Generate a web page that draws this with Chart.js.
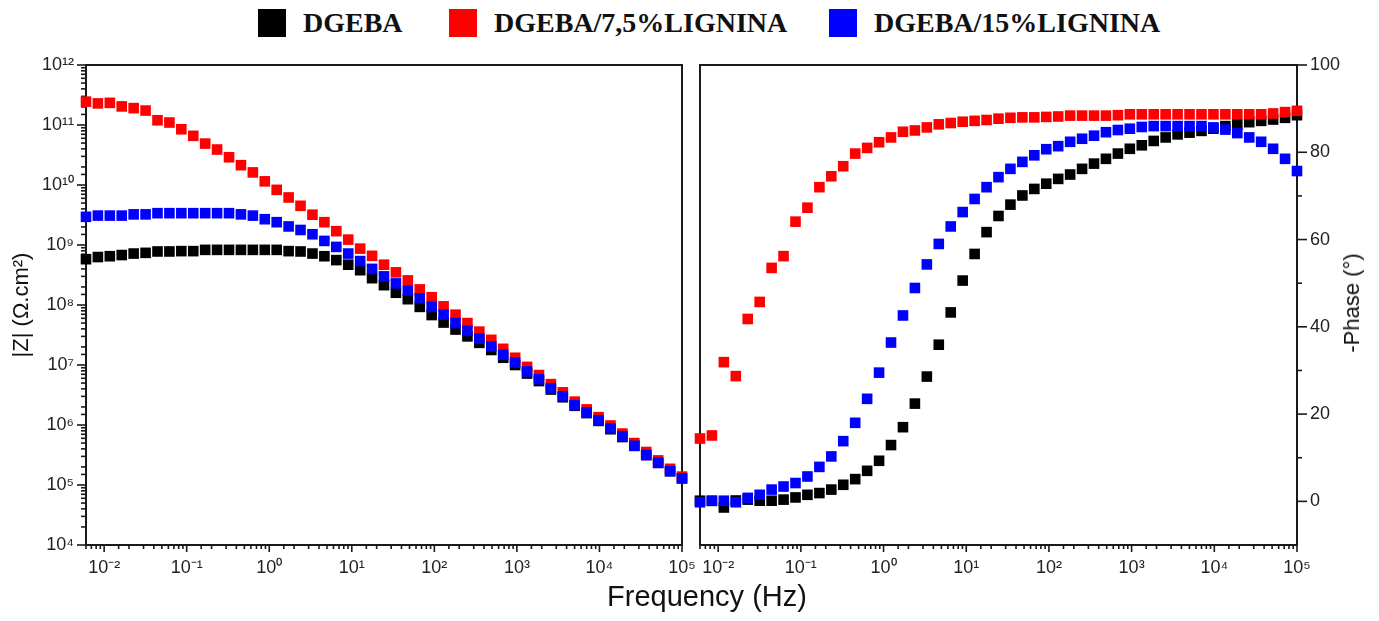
<!DOCTYPE html>
<html>
<head>
<meta charset="utf-8">
<script src="https://cdn.jsdelivr.net/npm/chart.js@4.4.1/dist/chart.umd.min.js"></script>
<style>
html,body{margin:0;padding:0;background:#fff;width:1379px;height:621px;overflow:hidden;position:relative;font-family:'Liberation Sans',Arial,sans-serif;}
.box{position:absolute;top:0;height:621px;}
#leftBox{left:0;width:710px;}
#rightBox{left:690px;width:689px;}
.leg{position:absolute;top:9px;height:28px;display:flex;align-items:center;font-family:'Liberation Serif','Times New Roman',serif;font-weight:bold;font-size:28px;line-height:28px;color:#111;white-space:nowrap;}
.leg i{display:inline-block;width:28px;height:28px;margin-right:17px;}
#xt{position:absolute;left:457px;width:500px;top:580px;text-align:center;font-size:29px;color:#111;white-space:nowrap;}
#yr{position:absolute;left:1352px;top:303px;transform:translate(-50%,-50%) rotate(-90deg);font-size:22px;color:#111;white-space:nowrap;}
</style>
</head>
<body>
<div class="leg" style="left:258px"><i style="background:#000"></i><span>DGEBA</span></div>
<div class="leg" style="left:449px"><i style="background:#ff0000"></i><span>DGEBA/7,5%LIGNINA</span></div>
<div class="leg" style="left:829px"><i style="background:#0000ff"></i><span>DGEBA/15%LIGNINA</span></div>
<div class="box" id="leftBox"><canvas id="cl"></canvas></div>
<div class="box" id="rightBox"><canvas id="cr"></canvas></div>
<div id="xt">Frequency (Hz)</div>
<div id="yr">-Phase (°)</div>
<script>
// ---- data ----
const freq = [0.00603, 0.0084, 0.01172, 0.01634, 0.02278, 0.03177, 0.0443, 0.06176, 0.08613, 0.1201,
  0.1675, 0.2335, 0.3256, 0.4541, 0.6332, 0.883, 1.231, 1.717, 2.394, 3.339,
  4.656, 6.493, 9.054, 12.63, 17.61, 24.55, 34.23, 47.74, 66.57, 92.82,
  129.4, 180.5, 251.7, 351.0, 489.4, 682.5, 951.5, 1327, 1850, 2580,
  3597, 5017, 6996, 9755, 13603, 18967, 26448, 36881, 51428, 71713, 100000];

const zDGEBA = [5.8e8, 6.3e8, 6.5e8, 6.8e8, 7.2e8, 7.4e8, 7.8e8, 7.8e8, 7.9e8, 7.9e8,
  8.3e8, 8.3e8, 8.3e8, 8.3e8, 8.3e8, 8.3e8, 8.3e8, 7.9e8, 7.8e8, 7.2e8,
  6.5e8, 5.6e8, 4.7e8, 3.8e8, 2.8e8, 2.14e8, 1.6e8, 1.25e8, 9.3e7, 6.8e7,
  5.1e7, 3.9e7, 3.0e7, 2.34e7, 1.78e7, 1.32e7, 1.0e7, 7.2e6, 5.4e6, 3.9e6,
  2.9e6, 2.09e6, 1.58e6, 1.17e6, 8.5e5, 6.3e5, 4.5e5, 3.16e5, 2.34e5, 1.70e5, 1.29e5];

const zLig75 = [2.45e11, 2.29e11, 2.34e11, 2.04e11, 1.91e11, 1.74e11, 1.20e11, 1.10e11, 8.5e10, 6.6e10,
  4.9e10, 3.9e10, 2.9e10, 2.14e10, 1.62e10, 1.15e10, 8.3e9, 6.2e9, 4.5e9, 3.2e9,
  2.4e9, 1.70e9, 1.23e9, 8.7e8, 6.6e8, 4.7e8, 3.5e8, 2.57e8, 1.82e8, 1.35e8,
  9.5e7, 6.9e7, 5.0e7, 3.6e7, 2.63e7, 1.86e7, 1.32e7, 9.3e6, 6.8e6, 4.8e6,
  3.5e6, 2.45e6, 1.82e6, 1.35e6, 9.8e5, 7.2e5, 5.0e5, 3.55e5, 2.57e5, 1.86e5, 1.38e5];

const zLig15 = [2.95e9, 3.09e9, 3.09e9, 3.09e9, 3.24e9, 3.24e9, 3.39e9, 3.39e9, 3.39e9, 3.39e9,
  3.39e9, 3.39e9, 3.39e9, 3.24e9, 3.09e9, 2.69e9, 2.4e9, 2.04e9, 1.78e9, 1.51e9,
  1.17e9, 9.3e8, 7.2e8, 5.4e8, 4.0e8, 3.0e8, 2.29e8, 1.74e8, 1.29e8, 9.3e7,
  6.9e7, 5.0e7, 3.7e7, 2.75e7, 2.04e7, 1.48e7, 1.10e7, 7.8e6, 5.8e6, 4.1e6,
  3.0e6, 2.14e6, 1.62e6, 1.20e6, 8.7e5, 6.5e5, 4.5e5, 3.16e5, 2.34e5, 1.70e5, 1.29e5];

const phDGEBA = [0.15, 0.1, -1.4, 0.2, 0.4, 0.15, 0.15, 0.4, 0.9, 1.5,
  1.9, 2.7, 3.8, 5.1, 7.0, 9.3, 12.9, 17.0, 22.4, 28.6,
  35.9, 43.3, 50.6, 56.7, 61.7, 65.4, 68.0, 70.1, 71.6, 72.8,
  73.9, 74.9, 76.2, 77.4, 78.5, 79.7, 80.8, 81.6, 82.6, 83.4,
  84.1, 84.5, 84.9, 85.4, 86.0, 86.4, 86.9, 87.2, 87.5, 87.9, 88.5];

const phLig75 = [14.4, 15.1, 31.9, 28.7, 41.8, 45.7, 53.5, 56.2, 64.1, 67.3,
  72.0, 74.5, 76.8, 79.7, 81.0, 82.3, 83.4, 84.7, 85.0, 85.7,
  86.4, 86.7, 87.0, 87.2, 87.4, 87.7, 87.9, 88.0, 88.0, 88.1,
  88.2, 88.4, 88.4, 88.4, 88.4, 88.5, 88.7, 88.7, 88.7, 88.7,
  88.7, 88.7, 88.7, 88.7, 88.7, 88.7, 88.7, 88.7, 88.9, 89.2, 89.5];

const phLig15 = [-0.2, 0.15, 0.15, -0.2, 0.8, 1.5, 2.7, 3.4, 4.2, 5.7,
  7.9, 10.3, 13.8, 18.0, 23.5, 29.5, 36.4, 42.6, 48.9, 54.3,
  59.0, 63.0, 66.3, 69.3, 72.0, 74.3, 76.2, 77.8, 79.3, 80.7,
  81.4, 82.4, 83.1, 83.8, 84.6, 85.1, 85.4, 85.8, 86.0, 86.0,
  86.0, 86.0, 86.0, 85.7, 85.2, 84.4, 83.4, 82.4, 80.8, 78.5, 75.7];

const seriesNames = ['DGEBA', 'DGEBA/7,5%LIGNINA', 'DGEBA/15%LIGNINA'];
const seriesColors = ['#000000', '#ff0000', '#0000ff'];

const xTickExps = [-2, -1, 0, 1, 2, 3, 4, 5];
const xTickLabels = ['10⁻²', '10⁻¹', '10⁰', '10¹', '10²', '10³', '10⁴', '10⁵'];
const yTickExps = [4, 5, 6, 7, 8, 9, 10, 11, 12];
const yTickLabels = ['10⁴', '10⁵', '10⁶', '10⁷', '10⁸', '10⁹', '10¹⁰', '10¹¹', '10¹²'];
const phaseTickLabels = [0, 20, 40, 60, 80, 100];

// ---- helpers ----
const FAMILY = "'Liberation Sans', Arial, sans-serif";
Chart.defaults.font.family = FAMILY;

function isPow10(v) {
  const l = Math.log10(v);
  return Math.abs(l - Math.round(l)) < 1e-6;
}
function expLabel(v, exps, labels) {
  if (!isPow10(v)) return '';
  const i = exps.indexOf(Math.round(Math.log10(v)));
  return i >= 0 ? labels[i] : '';
}
function pts(xs, ys) { return xs.map((x, i) => ({x: x, y: ys[i]})); }
function ds(k, ys, order) {
  return {
    label: seriesNames[k], data: pts(freq, ys),
    pointStyle: 'rect', pointRadius: 7.5, pointHoverRadius: 7.5,
    backgroundColor: seriesColors[k], borderColor: seriesColors[k], borderWidth: 0,
    showLine: false, clip: false, order: order
  };
}

const axisPlugin = {
  id: 'axisDraw',
  beforeDatasetsDraw(chart) {
    const ctx = chart.ctx, a = chart.chartArea;
    ctx.save();
    ctx.strokeStyle = '#1a1a1a';
    ctx.lineWidth = 2;
    ctx.strokeRect(a.left, a.top, a.right - a.left, a.bottom - a.top);
    ctx.lineWidth = 1.6;
    Object.values(chart.scales).forEach(s => {
      s.ticks.forEach(t => {
        const p = s.getPixelForValue(t.value);
        let major;
        if (s.type === 'logarithmic') major = isPow10(t.value);
        else major = (t.value % 20 === 0);
        ctx.beginPath();
        if (s.position === 'bottom') {
          const len = major ? 7 : 4;
          ctx.moveTo(p, a.bottom); ctx.lineTo(p, a.bottom + len);
        } else if (s.position === 'left') {
          const len = major ? 9 : 5;
          ctx.moveTo(a.left, p); ctx.lineTo(a.left - len, p);
        } else {
          if (t.value < 0) return;
          const len = major ? 10 : 5;
          ctx.moveTo(a.right, p); ctx.lineTo(a.right + len, p);
        }
        ctx.stroke();
      });
    });
    ctx.restore();
  }
};

const hiddenGrid = (len) => ({display: true, drawOnChartArea: false, drawTicks: true, tickLength: len, color: 'rgba(0,0,0,0)'});
const tickFont = {size: 18, family: FAMILY};

const xScale = {
  type: 'logarithmic', min: 0.00603, max: 1e5, position: 'bottom',
  afterFit(s) { s.height = 76; },
  grid: hiddenGrid(7), border: {display: false},
  ticks: {autoSkip: false, maxRotation: 0, padding: 5, font: tickFont, color: '#222',
    callback: (v) => expLabel(v, xTickExps, xTickLabels)}
};

// ---- left chart: |Z| ----
new Chart(document.getElementById('cl'), {
  type: 'scatter',
  data: {datasets: [ds(0, zDGEBA, 3), ds(1, zLig75, 2), ds(2, zLig15, 1)]},
  options: {
    responsive: true, maintainAspectRatio: false, animation: false, events: [],
    layout: {padding: {top: 65, right: 28, left: 0, bottom: 0}},
    plugins: {legend: {display: false}, tooltip: {enabled: false}},
    scales: {
      x: xScale,
      y: {
        type: 'logarithmic', min: 1e4, max: 1e12, position: 'left',
        afterFit(s) { s.width = 86; },
        grid: hiddenGrid(9), border: {display: false},
        title: {display: true, text: '|Z| (Ω.cm²)', color: '#111', font: {size: 22, family: FAMILY}, padding: {top: 9, bottom: 0}},
        ticks: {autoSkip: false, padding: 3, font: tickFont, color: '#222',
          callback: (v) => expLabel(v, yTickExps, yTickLabels)}
      }
    }
  },
  plugins: [axisPlugin]
});

// ---- right chart: -Phase ----
new Chart(document.getElementById('cr'), {
  type: 'scatter',
  data: {datasets: [ds(0, phDGEBA, 3), ds(1, phLig75, 2), ds(2, phLig15, 1)]},
  options: {
    responsive: true, maintainAspectRatio: false, animation: false, events: [],
    layout: {padding: {top: 65, right: 0, left: 10, bottom: 0}},
    plugins: {legend: {display: false}, tooltip: {enabled: false}},
    scales: {
      x: Object.assign({}, xScale),
      y: {
        type: 'linear', min: -10, max: 100, position: 'right',
        afterFit(s) { s.width = 82; },
        grid: hiddenGrid(10), border: {display: false},
        ticks: {autoSkip: false, stepSize: 10, padding: 3, font: tickFont, color: '#222',
          callback: (v) => phaseTickLabels.includes(v) ? String(v) : ''}
      }
    }
  },
  plugins: [axisPlugin]
});
</script>
</body>
</html>
